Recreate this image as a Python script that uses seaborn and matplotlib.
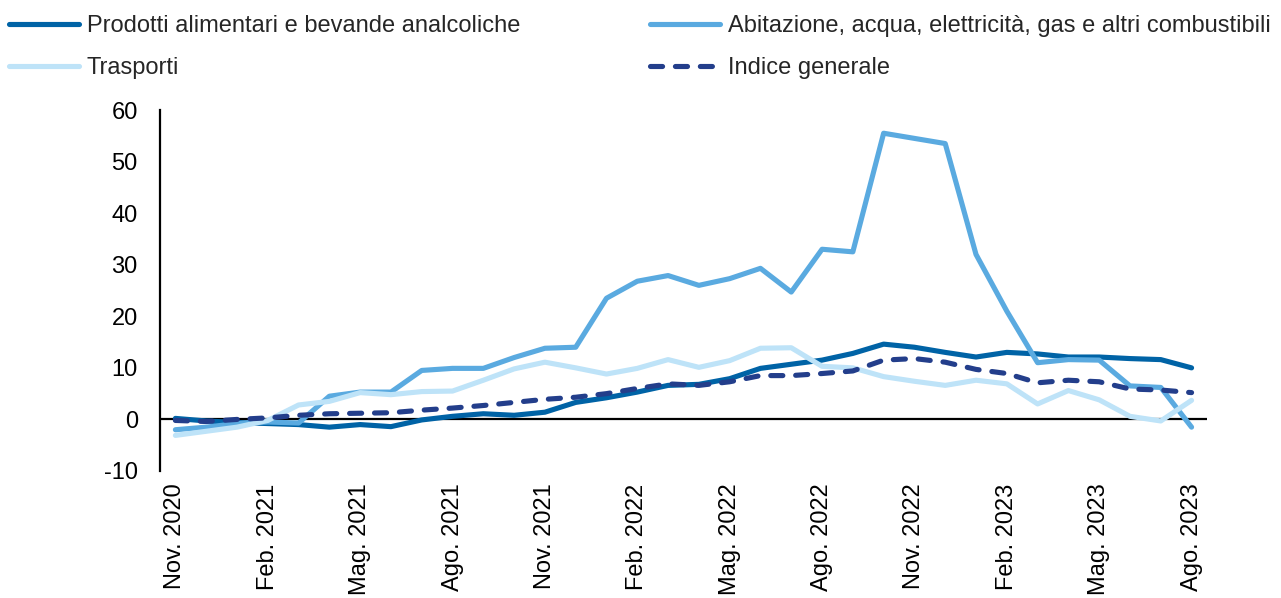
import numpy as np
import pandas as pd
import matplotlib
matplotlib.use("Agg")
import matplotlib.pyplot as plt
import seaborn as sns

sns.set_theme(style="white")
plt.rcParams['font.family'] = ['Liberation Sans', 'DejaVu Sans']

months = ["Nov. 2020", "Dic. 2020", "Gen. 2021", "Feb. 2021", "Mar. 2021", "Apr. 2021",
          "Mag. 2021", "Giu. 2021", "Lug. 2021", "Ago. 2021", "Set. 2021", "Ott. 2021",
          "Nov. 2021", "Dic. 2021", "Gen. 2022", "Feb. 2022", "Mar. 2022", "Apr. 2022",
          "Mag. 2022", "Giu. 2022", "Lug. 2022", "Ago. 2022", "Set. 2022", "Ott. 2022",
          "Nov. 2022", "Dic. 2022", "Gen. 2023", "Feb. 2023", "Mar. 2023", "Apr. 2023",
          "Mag. 2023", "Giu. 2023", "Lug. 2023", "Ago. 2023"]

prodotti = [0.2, -0.3, -0.6, -0.8, -1.0, -1.5, -1.0, -1.4, -0.1, 0.6, 1.1, 0.8,
            1.4, 3.3, 4.2, 5.3, 6.6, 6.8, 7.9, 9.9, 10.7, 11.5, 12.8, 14.6,
            14.0, 13.0, 12.1, 13.0, 12.7, 12.1, 12.1, 11.8, 11.6, 10.0]

abitazione = [-2.0, -1.5, -0.8, -0.5, -0.7, 4.5, 5.3, 5.3, 9.5, 9.9, 9.9, 12.0,
              13.8, 14.0, 23.5, 26.8, 27.9, 26.0, 27.3, 29.3, 24.7, 33.0, 32.5, 55.5,
              54.5, 53.5, 32.0, 21.0, 11.0, 11.6, 11.5, 6.5, 6.2, -1.5]

trasporti = [-3.1, -2.3, -1.5, -0.2, 2.8, 3.5, 5.2, 4.8, 5.4, 5.5, 7.6, 9.8,
             11.1, 10.0, 8.8, 9.9, 11.6, 10.1, 11.4, 13.8, 13.9, 10.3, 10.0, 8.3,
             7.4, 6.6, 7.6, 6.9, 3.0, 5.6, 3.8, 0.6, -0.3, 3.7]

indice = [-0.2, -0.4, 0.0, 0.3, 0.8, 1.1, 1.2, 1.3, 1.8, 2.2, 2.7, 3.3,
          3.9, 4.3, 5.0, 6.0, 6.9, 6.6, 7.3, 8.5, 8.5, 8.9, 9.4, 11.5,
          11.8, 11.1, 9.7, 8.9, 7.1, 7.6, 7.3, 5.9, 5.7, 5.2]

labels = ["Prodotti alimentari e bevande analcoliche",
          "Abitazione, acqua, elettricità, gas e altri combustibili",
          "Trasporti",
          "Indice generale"]
colors = ["#0063A6", "#5AAAE0", "#BEE3F8", "#233E8B"]
yticks = [-10, 0, 10, 20, 30, 40, 50, 60]

fig = plt.figure(figsize=(12.81, 5.98), dpi=100)
ax = fig.add_axes([0.1249, 0.2124, 0.8173, 0.6036])

x = np.arange(len(months))
series = [prodotti, abitazione, trasporti, indice]
lw = 3.7
handles = []
for i, (s, lab, col) in enumerate(zip(series, labels, colors)):
    df = pd.DataFrame({"x": x, "y": s})
    sns.lineplot(data=df, x="x", y="y", ax=ax, color=col, linewidth=lw, label=lab,
                 legend=False)
    line = ax.get_lines()[-1]
    if i == 3:
        line.set_dashes((2.35, 2.5))
        line.set_dash_capstyle('round')
    line.set_solid_capstyle('round')
    line.set_solid_joinstyle('round')
    handles.append(line)

ax.axhline(0, color="black", linewidth=1.6, zorder=0.5)

ax.set_xlim(-0.5, len(months) - 0.5)
ax.set_ylim(-10, 60)
ax.set_yticks(yticks)
ax.set_yticklabels([str(v) for v in yticks])
tick_idx = list(range(0, len(months), 3))
ax.set_xticks(tick_idx)
ax.set_xticklabels([months[i] for i in tick_idx], rotation=90, va="top", ha="center")
ax.tick_params(axis="both", length=0, colors="black")
ax.tick_params(axis="y", pad=16, labelsize=17)
ax.tick_params(axis="x", pad=9, labelsize=17)
ax.set_xlabel("")
ax.set_ylabel("")
for side in ["top", "right", "bottom"]:
    ax.spines[side].set_visible(False)
ax.spines["left"].set_color("black")
ax.spines["left"].set_linewidth(1.6)
ax.grid(False)

# legend filled row-wise: (Prodotti, Abitazione) / (Trasporti, Indice)
order = [0, 2, 1, 3]
fig.legend(handles=[handles[k] for k in order], labels=[labels[k] for k in order],
           loc="upper left", bbox_to_anchor=(0.007, 0.975), ncol=2, frameon=False,
           fontsize=17, handlelength=2.95, handletextpad=0.35, columnspacing=5.5,
           labelspacing=0.85, borderaxespad=0.0, borderpad=0.0)

fig.savefig("out.png", dpi=100, facecolor="white")
